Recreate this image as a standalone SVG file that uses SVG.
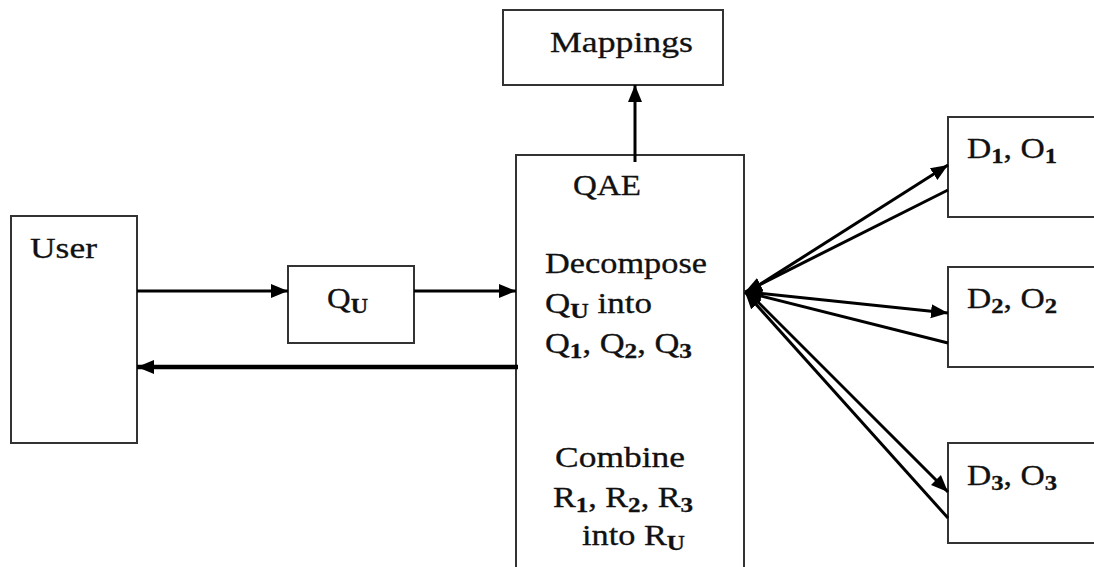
<svg xmlns="http://www.w3.org/2000/svg" width="1094" height="567" viewBox="0 0 1094 567">
  <style>
    .box { fill: #ffffff; stroke: #333333; stroke-width: 2; }
    .lbl { font-family: "Liberation Serif", "Times New Roman", serif; font-size: 30px; fill: #111111; stroke: #111111; stroke-width: 0.3; }
    .sub { font-size: 22px; font-weight: bold; }
    .edge { stroke: #000000; stroke-width: 3; fill: none; marker-end: url(#head); }
    .thick { stroke-width: 4.5; }
  </style>
  <defs>
    <marker id="head" markerUnits="userSpaceOnUse" markerWidth="18" markerHeight="16" refX="17" refY="8" orient="auto">
      <path d="M0,1 L17,8 L0,15 Z" fill="#000000"/>
    </marker>
  </defs>

  <rect width="1094" height="567" fill="#ffffff"/>

  <!-- nodes -->
  <g id="user">
    <rect class="box" x="11" y="216" width="126" height="227"/>
    <text class="lbl" x="30" y="258" font-size="28" textLength="67" lengthAdjust="spacingAndGlyphs">User</text>
  </g>

  <g id="qu">
    <rect class="box" x="288" y="266" width="126" height="77"/>
    <text class="lbl" x="327" y="308" textLength="41" lengthAdjust="spacingAndGlyphs">Q<tspan class="sub" dy="5">U</tspan></text>
  </g>

  <g id="mappings">
    <rect class="box" x="503" y="10" width="220" height="75"/>
    <text class="lbl" x="550" y="52" font-size="32" textLength="143" lengthAdjust="spacingAndGlyphs">Mappings</text>
  </g>

  <g id="qae">
    <rect class="box" x="516" y="155" width="228" height="430"/>
    <text class="lbl" x="573" y="195" textLength="68" lengthAdjust="spacingAndGlyphs">QAE</text>
    <text class="lbl" x="545" y="273" textLength="162" lengthAdjust="spacingAndGlyphs">Decompose</text>
    <text class="lbl" x="545" y="313" textLength="107" lengthAdjust="spacingAndGlyphs">Q<tspan class="sub" dy="5">U</tspan><tspan dy="-5"> into</tspan></text>
    <text class="lbl" x="545" y="353" textLength="147" lengthAdjust="spacingAndGlyphs">Q<tspan class="sub" dy="5">1</tspan><tspan dy="-5">, Q</tspan><tspan class="sub" dy="5">2</tspan><tspan dy="-5">, Q</tspan><tspan class="sub" dy="5">3</tspan></text>
    <text class="lbl" x="555" y="467" textLength="130" lengthAdjust="spacingAndGlyphs">Combine</text>
    <text class="lbl" x="553" y="507" textLength="140" lengthAdjust="spacingAndGlyphs">R<tspan class="sub" dy="5">1</tspan><tspan dy="-5">, R</tspan><tspan class="sub" dy="5">2</tspan><tspan dy="-5">, R</tspan><tspan class="sub" dy="5">3</tspan></text>
    <text class="lbl" x="582" y="545" textLength="103" lengthAdjust="spacingAndGlyphs">into R<tspan class="sub" dy="5">U</tspan></text>
  </g>

  <g id="d1">
    <rect class="box" x="948" y="117" width="160" height="100"/>
    <text class="lbl" x="967" y="158" textLength="90" lengthAdjust="spacingAndGlyphs">D<tspan class="sub" dy="5">1</tspan><tspan dy="-5">, O</tspan><tspan class="sub" dy="5">1</tspan></text>
  </g>

  <g id="d2">
    <rect class="box" x="948" y="267" width="160" height="100"/>
    <text class="lbl" x="967" y="308" textLength="90" lengthAdjust="spacingAndGlyphs">D<tspan class="sub" dy="5">2</tspan><tspan dy="-5">, O</tspan><tspan class="sub" dy="5">2</tspan></text>
  </g>

  <g id="d3">
    <rect class="box" x="948" y="443" width="160" height="100"/>
    <text class="lbl" x="967" y="485" textLength="90" lengthAdjust="spacingAndGlyphs">D<tspan class="sub" dy="5">3</tspan><tspan dy="-5">, O</tspan><tspan class="sub" dy="5">3</tspan></text>
  </g>

  <!-- connectors -->
  <g id="connectors">
    <line class="edge" x1="137" y1="291" x2="288" y2="291"/>
    <line class="edge" x1="414" y1="291" x2="516" y2="291"/>
    <line class="edge thick" x1="518" y1="367" x2="137" y2="367"/>
    <line class="edge" x1="635" y1="162" x2="635" y2="85"/>

    <line class="edge" x1="748" y1="292" x2="948" y2="165"/>
    <line class="edge" x1="948" y1="190" x2="745" y2="292"/>
    <line class="edge" x1="748" y1="292" x2="948" y2="313"/>
    <line class="edge" x1="948" y1="343" x2="745" y2="292"/>
    <line class="edge" x1="748" y1="292" x2="948" y2="492"/>
    <line class="edge" x1="948" y1="518" x2="745" y2="292"/>
  </g>
</svg>
